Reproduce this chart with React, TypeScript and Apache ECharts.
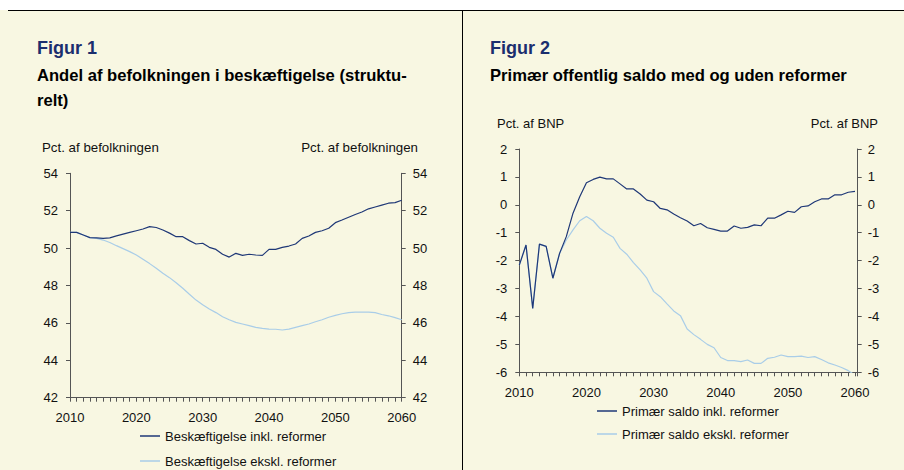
import React, { useEffect, useRef } from "react";
import * as echarts from "echarts";

const years = [
  2010, 2011, 2012, 2013, 2014, 2015, 2016, 2017, 2018, 2019,
  2020, 2021, 2022, 2023, 2024, 2025, 2026, 2027, 2028, 2029,
  2030, 2031, 2032, 2033, 2034, 2035, 2036, 2037, 2038, 2039,
  2040, 2041, 2042, 2043, 2044, 2045, 2046, 2047, 2048, 2049,
  2050, 2051, 2052, 2053, 2054, 2055, 2056, 2057, 2058, 2059,
  2060,
];

// Figur 1: Andel af befolkningen i beskæftigelse (pct.)
const empInkl = [
  50.84, 50.84, 50.7, 50.56, 50.55, 50.52, 50.55, 50.65, 50.75, 50.84,
  50.93, 51.02, 51.15, 51.1, 50.97, 50.8, 50.61, 50.61, 50.4, 50.22,
  50.26, 50.04, 49.93, 49.67, 49.52, 49.72, 49.61, 49.67, 49.63, 49.61,
  49.93, 49.93, 50.04, 50.11, 50.22, 50.52, 50.65, 50.84, 50.93, 51.06,
  51.36, 51.5, 51.65, 51.8, 51.93, 52.1, 52.2, 52.3, 52.4, 52.43,
  52.56,
];
const empEkskl = [
  50.84, 50.84, 50.7, 50.56, 50.52, 50.43, 50.3, 50.13, 49.97, 49.81,
  49.63, 49.4, 49.17, 48.92, 48.65, 48.42, 48.15, 47.85, 47.53, 47.22,
  46.97, 46.74, 46.55, 46.33, 46.17, 46.03, 45.94, 45.85, 45.76, 45.71,
  45.67, 45.66, 45.62, 45.67, 45.76, 45.85, 45.94, 46.06, 46.17, 46.3,
  46.4, 46.49, 46.55, 46.58, 46.58, 46.58, 46.55, 46.45, 46.38, 46.28,
  46.17,
];

// Figur 2: Primær offentlig saldo (pct. af BNP)
const saldoInkl = [
  -2.16, -1.44, -3.71, -1.41, -1.49, -2.63, -1.74, -1.14, -0.3, 0.29,
  0.79, 0.91, 0.99, 0.93, 0.93, 0.75, 0.57, 0.57, 0.39, 0.17,
  0.11, -0.13, -0.18, -0.33, -0.46, -0.58, -0.75, -0.67, -0.82, -0.88,
  -0.94, -0.94, -0.76, -0.84, -0.81, -0.72, -0.75, -0.48, -0.48, -0.36,
  -0.23, -0.27, -0.07, -0.04, 0.11, 0.21, 0.21, 0.36, 0.36, 0.45,
  0.48,
];
const saldoEkskl = [
  -2.16, -1.44, -3.71, -1.41, -1.49, -2.63, -1.74, -1.26, -0.9, -0.57,
  -0.42, -0.57, -0.84, -1.02, -1.16, -1.56, -1.77, -2.07, -2.33, -2.63,
  -3.11, -3.29, -3.55, -3.8, -3.97, -4.45, -4.65, -4.82, -5.0, -5.12,
  -5.47, -5.58, -5.58, -5.62, -5.56, -5.68, -5.68, -5.5, -5.46, -5.38,
  -5.44, -5.44, -5.42, -5.47, -5.44, -5.54, -5.66, -5.74, -5.83, -5.94,
  -6.1,
];

const xLabelYears = [2010, 2020, 2030, 2040, 2050, 2060];

const NAME_E_INKL = "Beskæftigelse inkl. reformer";
const NAME_E_EKSKL = "Beskæftigelse ekskl. reformer";
const NAME_S_INKL = "Primær saldo inkl. reformer";
const NAME_S_EKSKL = "Primær saldo ekskl. reformer";

const CREAM = "#F8F7E2";
const DARK = "#1F3877";
const LIGHT = "#A9CDE8";
const AXIS = "#555555";
const TXT = "#111111";
const NAVY = "#1B2E6E";
const FONT = '"Liberation Sans", Arial, Helvetica, sans-serif';

const pair = (vals: number[]) => years.map((y, i) => [y, vals[i]]);

function xAxis(gridIndex: number, max: number, margin: number) {
  return {
    type: "value",
    gridIndex,
    min: 2010,
    max,
    interval: 1,
    axisLine: { show: true, onZero: false, lineStyle: { color: AXIS, width: 1 } },
    axisTick: { show: true, length: 4, lineStyle: { color: AXIS, width: 1 } },
    axisLabel: {
      margin,
      fontSize: 13,
      color: TXT,
      fontFamily: FONT,
      formatter: (v: number) => (xLabelYears.indexOf(v) >= 0 ? String(v) : ""),
    },
    splitLine: { show: false },
  };
}

function yAxis(gridIndex: number, position: string, min: number, max: number, margin: number) {
  return {
    type: "value",
    gridIndex,
    position,
    min,
    max,
    interval: 1 * (max - min > 10 ? 2 : 1),
    axisLine: { show: true, onZero: false, lineStyle: { color: AXIS, width: 1 } },
    axisTick: { show: true, length: 4, lineStyle: { color: AXIS, width: 1 } },
    axisLabel: { margin, fontSize: 13, color: TXT, fontFamily: FONT },
    splitLine: { show: false },
  };
}

function legendFor(name: string, left: number, top: number) {
  return {
    data: [name],
    left,
    top,
    padding: 0,
    icon: "rect",
    itemWidth: 20,
    itemHeight: 1.5,
    itemGap: 0,
    selectedMode: false,
    textStyle: { fontSize: 13, color: TXT, fontFamily: FONT },
  };
}

function text(t: string, x: number, y: number, size: number, bold: boolean, color: string, align = "left") {
  return {
    type: "text",
    x,
    y,
    silent: true,
    style: {
      text: t,
      fontSize: size,
      fontWeight: bold ? "bold" : "normal",
      fontFamily: FONT,
      fill: color,
      align,
      verticalAlign: "middle",
    },
  };
}

export default function App() {
  const ref = useRef<HTMLDivElement>(null);

  useEffect(() => {
    if (!ref.current) return;
    const chart = echarts.init(ref.current, undefined, { renderer: "svg" });
    const option: any = {
      animation: false,
      backgroundColor: CREAM,
      grid: [
        { left: 70, top: 173.3, width: 331.7, height: 224.4, containLabel: false },
        { left: 519.3, top: 149, width: 338.4, height: 223.3, containLabel: false },
      ],
      xAxis: [xAxis(0, 2060, 13), xAxis(1, 2060.4, 14)],
      yAxis: [
        yAxis(0, "left", 42, 54, 12),
        yAxis(0, "right", 42, 54, 11),
        yAxis(1, "left", -6, 2, 12),
        yAxis(1, "right", -6, 2, 10),
      ],
      legend: [
        legendFor(NAME_E_INKL, 140, 429.5),
        legendFor(NAME_E_EKSKL, 140, 454.5),
        legendFor(NAME_S_INKL, 597, 404.5),
        legendFor(NAME_S_EKSKL, 597, 427.5),
      ],
      series: [
        {
          name: NAME_E_EKSKL, type: "line", xAxisIndex: 0, yAxisIndex: 0,
          data: pair(empEkskl), symbol: "none", clip: true,
          lineStyle: { color: LIGHT, width: 1.2 }, itemStyle: { color: LIGHT },
        },
        {
          name: NAME_E_INKL, type: "line", xAxisIndex: 0, yAxisIndex: 0,
          data: pair(empInkl), symbol: "none", clip: true,
          lineStyle: { color: DARK, width: 1.2 }, itemStyle: { color: DARK },
        },
        {
          name: NAME_S_EKSKL, type: "line", xAxisIndex: 1, yAxisIndex: 2,
          data: pair(saldoEkskl), symbol: "none", clip: true,
          lineStyle: { color: LIGHT, width: 1.2 }, itemStyle: { color: LIGHT },
        },
        {
          name: NAME_S_INKL, type: "line", xAxisIndex: 1, yAxisIndex: 2,
          data: pair(saldoInkl), symbol: "none", clip: true,
          lineStyle: { color: DARK, width: 1.2 }, itemStyle: { color: DARK },
        },
      ],
      graphic: [
        { type: "rect", silent: true, shape: { x: 0, y: 0, width: 904, height: 10 }, style: { fill: "#ffffff" } },
        { type: "line", silent: true, shape: { x1: 8, y1: 10.5, x2: 904, y2: 10.5 }, style: { stroke: "#000000", lineWidth: 1 } },
        { type: "line", silent: true, shape: { x1: 462.5, y1: 10, x2: 462.5, y2: 470 }, style: { stroke: "#000000", lineWidth: 1 } },
        text("Figur 1", 37, 48, 18, true, NAVY),
        text("Andel af befolkningen i beskæftigelse (struktu-", 37, 75, 16.6, true, "#000000"),
        text("relt)", 37, 100, 16.6, true, "#000000"),
        text("Pct. af befolkningen", 42, 147, 13.3, false, TXT),
        text("Pct. af befolkningen", 418, 147, 13.3, false, TXT, "right"),
        text("Figur 2", 490, 48, 18, true, NAVY),
        text("Primær offentlig saldo med og uden reformer", 490, 75, 16.6, true, "#000000"),
        text("Pct. af BNP", 497, 123, 13, false, TXT),
        text("Pct. af BNP", 878, 123, 13, false, TXT, "right"),
      ],
    };
    chart.setOption(option);
    return () => chart.dispose();
  }, []);

  return (
    <div
      ref={ref}
      style={{ position: "fixed", left: 0, top: 0, width: 904, height: 470 }}
    />
  );
}
